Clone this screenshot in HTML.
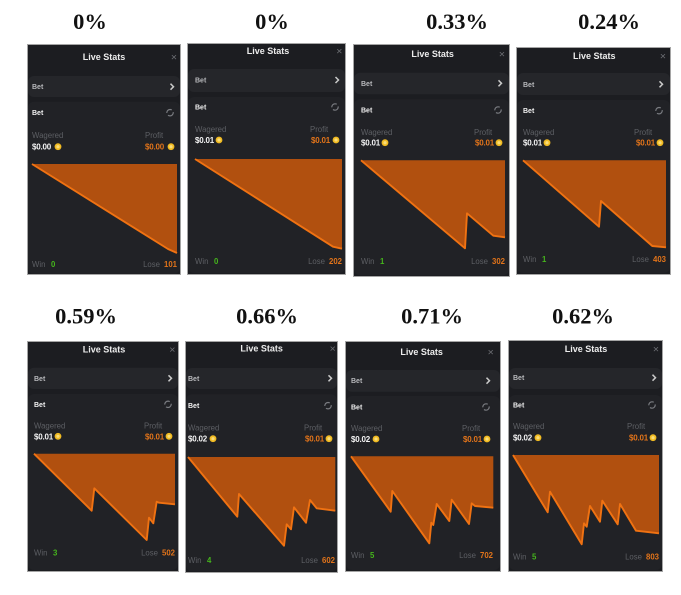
<!DOCTYPE html>
<html><head><meta charset="utf-8"><style>
html,body{margin:0;padding:0;background:#fff;}
svg{display:block;}
.pct{font-family:"Liberation Serif",serif;font-weight:bold;font-size:22.5px;fill:#111;text-anchor:middle;}
.ls{font-family:"Liberation Sans",sans-serif;font-weight:bold;font-size:9px;fill:#ececec;text-anchor:middle;}
.x{font-family:"Liberation Sans",sans-serif;font-size:10.5px;fill:#6e7075;text-anchor:middle;}
.b1{font-family:"Liberation Sans",sans-serif;font-weight:bold;font-size:7px;fill:#b8b9bc;}
.b2{font-family:"Liberation Sans",sans-serif;font-weight:bold;font-size:7px;fill:#f2f2f2;}
.g{font-family:"Liberation Sans",sans-serif;font-size:7.8px;fill:#5d5f64;}
.ge{font-family:"Liberation Sans",sans-serif;font-size:7.8px;fill:#5d5f64;text-anchor:end;}
.vw{font-family:"Liberation Sans",sans-serif;font-weight:bold;font-size:8px;fill:#f4f4f4;letter-spacing:-0.2px;}
.vo{font-family:"Liberation Sans",sans-serif;font-weight:bold;font-size:8px;fill:#e2741a;letter-spacing:-0.2px;}
.gn{font-family:"Liberation Sans",sans-serif;font-weight:bold;font-size:7.8px;fill:#45b51c;}
.on{font-family:"Liberation Sans",sans-serif;font-weight:bold;font-size:7.8px;fill:#e2741a;text-anchor:end;}
.pan{fill:#1c1d21;stroke:#a5a5a5;stroke-width:1;}
.row{fill:#25262a;}
.sec{fill:#212226;}
.fill{fill:#b1500f;}
.line{fill:none;stroke:#f07212;stroke-width:1.9;stroke-linejoin:round;}
.chev{fill:none;stroke:#c9c9c9;stroke-width:1.5;}
.ref{fill:none;stroke:#7a7c81;stroke-width:1.2;stroke-dasharray:7 2.5;}
.coin{fill:#f1bb22;}
.coinc{fill:#f9dd7a;}
</style></head><body>
<svg width="681" height="595" viewBox="0 0 681 595" xmlns="http://www.w3.org/2000/svg">
<rect width="681" height="595" fill="#fff"/>

<text class="pct" x="90" y="29">0%</text>
<text class="pct" x="272" y="29">0%</text>
<text class="pct" x="457" y="29">0.33%</text>
<text class="pct" x="609" y="29">0.24%</text>
<text class="pct" x="86" y="323.5">0.59%</text>
<text class="pct" x="267" y="323.5">0.66%</text>
<text class="pct" x="432" y="323.5">0.71%</text>
<text class="pct" x="583" y="323.5">0.62%</text>

<!-- P1 -->
<rect class="pan" x="27.5" y="44.5" width="153" height="230"/>
<rect class="row" x="28" y="76" width="152" height="21" rx="6"/>
<rect class="sec" x="28" y="101.7" width="152" height="172" rx="6"/>
<text class="ls" x="104" y="60">Live Stats</text>
<text class="x" x="174" y="60.5">×</text>
<text class="b1" x="32" y="89.2">Bet</text>
<path class="chev" d="M170.5 83.7 L173.5 86.7 L170.5 89.7"/>
<text class="b2" x="32" y="115.2">Bet</text>
<circle class="ref" cx="170" cy="112.7" r="3.2"/>
<text class="g" x="32" y="137.8">Wagered</text>
<text class="g" x="145" y="137.8">Profit</text>
<text class="vw" x="32" y="149.7">$0.00</text>
<circle class="coin" cx="58" cy="146.7" r="3.4"/><circle class="coinc" cx="58" cy="146.7" r="1.6"/>
<text class="vo" x="145" y="149.7">$0.00</text>
<circle class="coin" cx="171" cy="146.7" r="3.4"/><circle class="coinc" cx="171" cy="146.7" r="1.6"/>
<polygon class="fill" points="32,164 168,249 177,253 177,164"/>
<polyline class="line" points="32,164 168,249 177,253"/>
<text class="g" x="32" y="266.8">Win</text>
<text class="gn" x="51" y="266.8">0</text>
<text class="ge" x="160" y="266.8">Lose</text>
<text class="on" x="177" y="266.8">101</text>

<!-- P2 -->
<rect class="pan" x="187.5" y="43.5" width="158" height="231"/>
<rect class="row" x="188" y="69" width="157" height="23" rx="6"/>
<rect class="sec" x="188" y="97" width="157" height="176" rx="6"/>
<text class="ls" x="268" y="54">Live Stats</text>
<text class="x" x="339.3" y="54.5">×</text>
<text class="b1" x="195" y="82.5">Bet</text>
<path class="chev" d="M335.5 77 L338.5 80 L335.5 83"/>
<text class="b2" x="195" y="109.5">Bet</text>
<circle class="ref" cx="335" cy="107" r="3.2"/>
<text class="g" x="195" y="131.8">Wagered</text>
<text class="g" x="310" y="131.8">Profit</text>
<text class="vw" x="195" y="143">$0.01</text>
<circle class="coin" cx="219" cy="140" r="3.4"/><circle class="coinc" cx="219" cy="140" r="1.6"/>
<text class="vo" x="311" y="143">$0.01</text>
<circle class="coin" cx="336" cy="140" r="3.4"/><circle class="coinc" cx="336" cy="140" r="1.6"/>
<polygon class="fill" points="195,159 333,246.7 342,248.7 342,159"/>
<polyline class="line" points="195,159 333,246.7 342,248.7"/>
<text class="g" x="195" y="263.8">Win</text>
<text class="gn" x="214" y="263.8">0</text>
<text class="ge" x="325" y="263.8">Lose</text>
<text class="on" x="342" y="263.8">202</text>

<!-- P3 -->
<rect class="pan" x="353.5" y="44.5" width="156" height="232"/>
<rect class="row" x="354" y="72.7" width="155" height="21.6" rx="6"/>
<rect class="sec" x="354" y="99.3" width="155" height="176" rx="6"/>
<text class="ls" x="432.7" y="57.2">Live Stats</text>
<text class="x" x="502" y="57.7">×</text>
<text class="b1" x="361" y="85.8">Bet</text>
<path class="chev" d="M498.5 80.3 L501.5 83.3 L498.5 86.3"/>
<text class="b2" x="361" y="112.5">Bet</text>
<circle class="ref" cx="498" cy="110" r="3.2"/>
<text class="g" x="361" y="134.8">Wagered</text>
<text class="g" x="474" y="134.8">Profit</text>
<text class="vw" x="361" y="145.7">$0.01</text>
<circle class="coin" cx="385" cy="142.7" r="3.4"/><circle class="coinc" cx="385" cy="142.7" r="1.6"/>
<text class="vo" x="475" y="145.7">$0.01</text>
<circle class="coin" cx="499" cy="142.7" r="3.4"/><circle class="coinc" cx="499" cy="142.7" r="1.6"/>
<polygon class="fill" points="361,160.3 465,248.3 467,213.3 493.3,235.7 505,237.3 505,160.3"/>
<polyline class="line" points="361,160.3 465,248.3 467,213.3 493.3,235.7 505,237.3"/>
<text class="g" x="361" y="263.8">Win</text>
<text class="gn" x="380" y="263.8">1</text>
<text class="ge" x="488" y="263.8">Lose</text>
<text class="on" x="505" y="263.8">302</text>

<!-- P4 -->
<rect class="pan" x="516.5" y="47.5" width="154" height="227"/>
<rect class="row" x="517" y="73" width="153" height="22" rx="6"/>
<rect class="sec" x="517" y="100" width="153" height="173" rx="6"/>
<text class="ls" x="594.3" y="58.9">Live Stats</text>
<text class="x" x="663" y="59.4">×</text>
<text class="b1" x="523" y="86.8">Bet</text>
<path class="chev" d="M659.5 81.3 L662.5 84.3 L659.5 87.3"/>
<text class="b2" x="523" y="113.2">Bet</text>
<circle class="ref" cx="659" cy="110.7" r="3.2"/>
<text class="g" x="523" y="134.8">Wagered</text>
<text class="g" x="634" y="134.8">Profit</text>
<text class="vw" x="523" y="145.7">$0.01</text>
<circle class="coin" cx="547" cy="142.7" r="3.4"/><circle class="coinc" cx="547" cy="142.7" r="1.6"/>
<text class="vo" x="636" y="145.7">$0.01</text>
<circle class="coin" cx="660" cy="142.7" r="3.4"/><circle class="coinc" cx="660" cy="142.7" r="1.6"/>
<polygon class="fill" points="523,160.3 599,226.7 601,201 652.3,246 666,247.3 666,160.3"/>
<polyline class="line" points="523,160.3 599,226.7 601,201 652.3,246 666,247.3"/>
<text class="g" x="523" y="262.1">Win</text>
<text class="gn" x="542" y="262.1">1</text>
<text class="ge" x="649" y="262.1">Lose</text>
<text class="on" x="666" y="262.1">403</text>

<!-- P5 -->
<rect class="pan" x="27.5" y="341.5" width="151" height="230"/>
<rect class="row" x="28" y="367.7" width="150" height="21.3" rx="6"/>
<rect class="sec" x="28" y="394" width="150" height="176" rx="6"/>
<text class="ls" x="104" y="352.5">Live Stats</text>
<text class="x" x="172.3" y="353">×</text>
<text class="b1" x="34" y="380.8">Bet</text>
<path class="chev" d="M168.5 375.3 L171.5 378.3 L168.5 381.3"/>
<text class="b2" x="34" y="406.8">Bet</text>
<circle class="ref" cx="168" cy="404.3" r="3.2"/>
<text class="g" x="34" y="428.5">Wagered</text>
<text class="g" x="144" y="428.5">Profit</text>
<text class="vw" x="34" y="439.3">$0.01</text>
<circle class="coin" cx="58" cy="436.3" r="3.4"/><circle class="coinc" cx="58" cy="436.3" r="1.6"/>
<text class="vo" x="145" y="439.3">$0.01</text>
<circle class="coin" cx="169" cy="436.3" r="3.4"/><circle class="coinc" cx="169" cy="436.3" r="1.6"/>
<polygon class="fill" points="34,453.7 91.7,510.7 94.3,488.3 146.7,540 149,517.7 153.3,523.3 156.7,501.7 159,502.7 175,504.3 175,453.7"/>
<polyline class="line" points="34,453.7 91.7,510.7 94.3,488.3 146.7,540 149,517.7 153.3,523.3 156.7,501.7 159,502.7 175,504.3"/>
<text class="g" x="34" y="555.5">Win</text>
<text class="gn" x="53" y="555.5">3</text>
<text class="ge" x="158" y="555.5">Lose</text>
<text class="on" x="175" y="555.5">502</text>

<!-- P6 -->
<rect class="pan" x="185.5" y="341.5" width="152" height="231"/>
<rect class="row" x="186" y="368" width="151" height="21" rx="6"/>
<rect class="sec" x="186" y="394.3" width="151" height="177" rx="6"/>
<text class="ls" x="261.7" y="351.5">Live Stats</text>
<text class="x" x="332.7" y="352">×</text>
<text class="b1" x="188" y="380.8">Bet</text>
<path class="chev" d="M328.5 375.3 L331.5 378.3 L328.5 381.3"/>
<text class="b2" x="188" y="408.2">Bet</text>
<circle class="ref" cx="328" cy="405.7" r="3.2"/>
<text class="g" x="188" y="430.5">Wagered</text>
<text class="g" x="304" y="430.5">Profit</text>
<text class="vw" x="188" y="441.7">$0.02</text>
<circle class="coin" cx="213" cy="438.7" r="3.4"/><circle class="coinc" cx="213" cy="438.7" r="1.6"/>
<text class="vo" x="305" y="441.7">$0.01</text>
<circle class="coin" cx="329" cy="438.7" r="3.4"/><circle class="coinc" cx="329" cy="438.7" r="1.6"/>
<polygon class="fill" points="188,457 237.3,516.7 239,494 284,545.7 286.7,524.3 291,529.3 294,507.3 306,522.7 310,500 316.7,508.3 335.3,510.7 335.3,457"/>
<polyline class="line" points="188,457 237.3,516.7 239,494 284,545.7 286.7,524.3 291,529.3 294,507.3 306,522.7 310,500 316.7,508.3 335.3,510.7"/>
<text class="g" x="188" y="562.8">Win</text>
<text class="gn" x="207" y="562.8">4</text>
<text class="ge" x="318" y="562.8">Lose</text>
<text class="on" x="335" y="562.8">602</text>

<!-- P7 -->
<rect class="pan" x="345.5" y="341.5" width="155" height="230"/>
<rect class="row" x="346" y="370" width="154" height="21.7" rx="6"/>
<rect class="sec" x="346" y="396" width="154" height="174" rx="6"/>
<text class="ls" x="421.7" y="354.9">Live Stats</text>
<text class="x" x="490.7" y="355.4">×</text>
<text class="b1" x="351" y="383.2">Bet</text>
<path class="chev" d="M486.5 377.7 L489.5 380.7 L486.5 383.7"/>
<text class="b2" x="351" y="409.5">Bet</text>
<circle class="ref" cx="486" cy="407" r="3.2"/>
<text class="g" x="351" y="431.1">Wagered</text>
<text class="g" x="462" y="431.1">Profit</text>
<text class="vw" x="351" y="442">$0.02</text>
<circle class="coin" cx="376" cy="439" r="3.4"/><circle class="coinc" cx="376" cy="439" r="1.6"/>
<text class="vo" x="463" y="442">$0.01</text>
<circle class="coin" cx="487" cy="439" r="3.4"/><circle class="coinc" cx="487" cy="439" r="1.6"/>
<polygon class="fill" points="351,456.3 390.7,511.7 392.3,491 429.3,543.3 431.3,522.7 433.3,525 436.7,504 449.3,521 451.7,499.7 469,524 471.7,503.3 475,506 493.3,507.7 493.3,456.3"/>
<polyline class="line" points="351,456.3 390.7,511.7 392.3,491 429.3,543.3 431.3,522.7 433.3,525 436.7,504 449.3,521 451.7,499.7 469,524 471.7,503.3 475,506 493.3,507.7"/>
<text class="g" x="351" y="558.1">Win</text>
<text class="gn" x="370" y="558.1">5</text>
<text class="ge" x="476" y="558.1">Lose</text>
<text class="on" x="493" y="558.1">702</text>

<!-- P8 -->
<rect class="pan" x="508.5" y="340.5" width="154" height="231"/>
<rect class="row" x="509" y="368" width="153" height="21" rx="6"/>
<rect class="sec" x="509" y="395" width="153" height="175" rx="6"/>
<text class="ls" x="586" y="352.2">Live Stats</text>
<text class="x" x="656" y="352.7">×</text>
<text class="b1" x="513" y="380.2">Bet</text>
<path class="chev" d="M652.5 374.7 L655.5 377.7 L652.5 380.7"/>
<text class="b2" x="513" y="407.5">Bet</text>
<circle class="ref" cx="652" cy="405" r="3.2"/>
<text class="g" x="513" y="428.8">Wagered</text>
<text class="g" x="627" y="428.8">Profit</text>
<text class="vw" x="513" y="440.7">$0.02</text>
<circle class="coin" cx="538" cy="437.7" r="3.4"/><circle class="coinc" cx="538" cy="437.7" r="1.6"/>
<text class="vo" x="629" y="440.7">$0.01</text>
<circle class="coin" cx="653" cy="437.7" r="3.4"/><circle class="coinc" cx="653" cy="437.7" r="1.6"/>
<polygon class="fill" points="513,455 547.7,512.3 550,491.7 581.7,544.3 584,523.3 586.7,526.7 590,506 600,521.7 602.3,500.7 617.7,524.3 620,504 636,530.7 659,533.3 659,455"/>
<polyline class="line" points="513,455 547.7,512.3 550,491.7 581.7,544.3 584,523.3 586.7,526.7 590,506 600,521.7 602.3,500.7 617.7,524.3 620,504 636,530.7 659,533.3"/>
<text class="g" x="513" y="559.5">Win</text>
<text class="gn" x="532" y="559.5">5</text>
<text class="ge" x="642" y="559.5">Lose</text>
<text class="on" x="659" y="559.5">803</text>
</svg>
</body></html>
